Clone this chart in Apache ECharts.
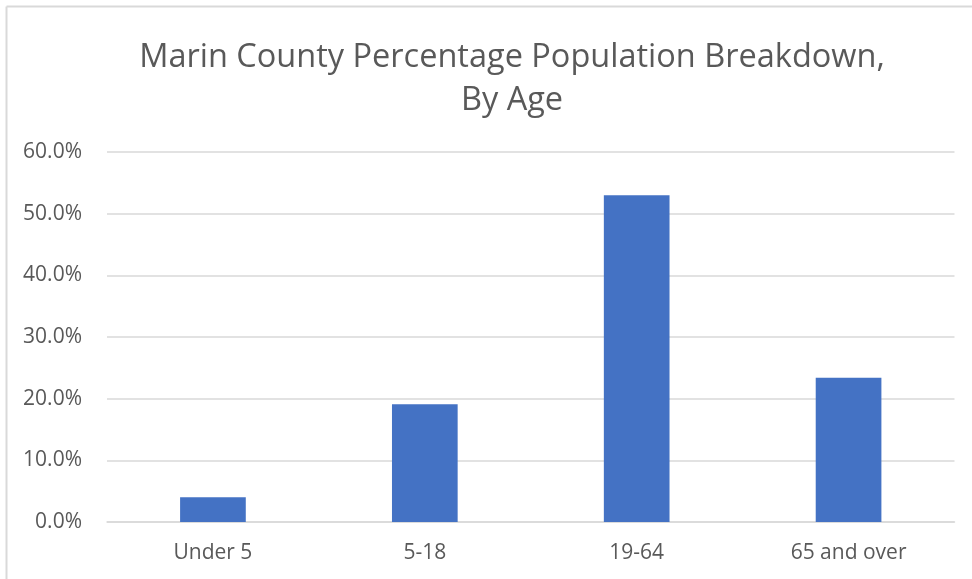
<!DOCTYPE html>
<html>
<head>
<meta charset="utf-8">
<script src="https://cdn.jsdelivr.net/npm/echarts@6/dist/echarts.min.js"></script>
<style>html,body{margin:0;padding:0;background:#fff;}#c{width:972px;height:579px;}</style>
</head>
<body>
<div id="c"></div>
<script>
const categories = ['Under 5', '5-18', '19-64', '65 and over'];
const values = [4.0, 19.1, 53.0, 23.4];
const yTicks = [0, 10, 20, 30, 40, 50, 60];
const titleLines = ['Marin County Percentage Population Breakdown,', 'By Age'];

const chart = echarts.init(document.getElementById('c'), null, {renderer: 'canvas'});
chart.setOption({
  backgroundColor: '#ffffff',
  animation: false,
  graphic: [
    {type: 'line', shape: {x1: 6.5, y1: 6.5, x2: 972, y2: 6.5}, style: {stroke: '#d9d9d9', lineWidth: 2}},
    {type: 'line', shape: {x1: 6.5, y1: 6.5, x2: 6.5, y2: 579}, style: {stroke: '#d9d9d9', lineWidth: 2}},
    {type: 'text', x: 512, y: 58, style: {
      text: titleLines[0], fill: '#595959', font: 'normal 32.5px "Open Sans"',
      textAlign: 'center', textVerticalAlign: 'middle'}},
    {type: 'text', x: 512, y: 101, style: {
      text: titleLines[1], fill: '#595959', font: 'normal 32.5px "Open Sans"',
      textAlign: 'center', textVerticalAlign: 'middle'}}
  ],
  grid: {left: 107, right: 17.5, top: 152, bottom: 57, containLabel: false},
  xAxis: {
    type: 'category',
    data: categories,
    axisLine: {show: true, lineStyle: {color: '#d9d9d9', width: 1.5}},
    axisTick: {show: false},
    axisLabel: {color: '#595959', fontFamily: 'Open Sans', fontSize: 21, margin: 21}
  },
  yAxis: {
    type: 'value',
    min: yTicks[0],
    max: yTicks[yTicks.length - 1],
    interval: 10,
    axisLine: {show: false},
    axisTick: {show: false},
    splitLine: {lineStyle: {color: '#d9d9d9', width: 1.5}},
    axisLabel: {
      color: '#595959', fontFamily: 'Open Sans', fontSize: 21, margin: 25,
      formatter: v => v.toFixed(1) + '%'
    }
  },
  series: [{
    type: 'bar',
    data: values,
    barWidth: '31%',
    itemStyle: {color: '#4472c4'}
  }]
});
</script>
</body>
</html>
